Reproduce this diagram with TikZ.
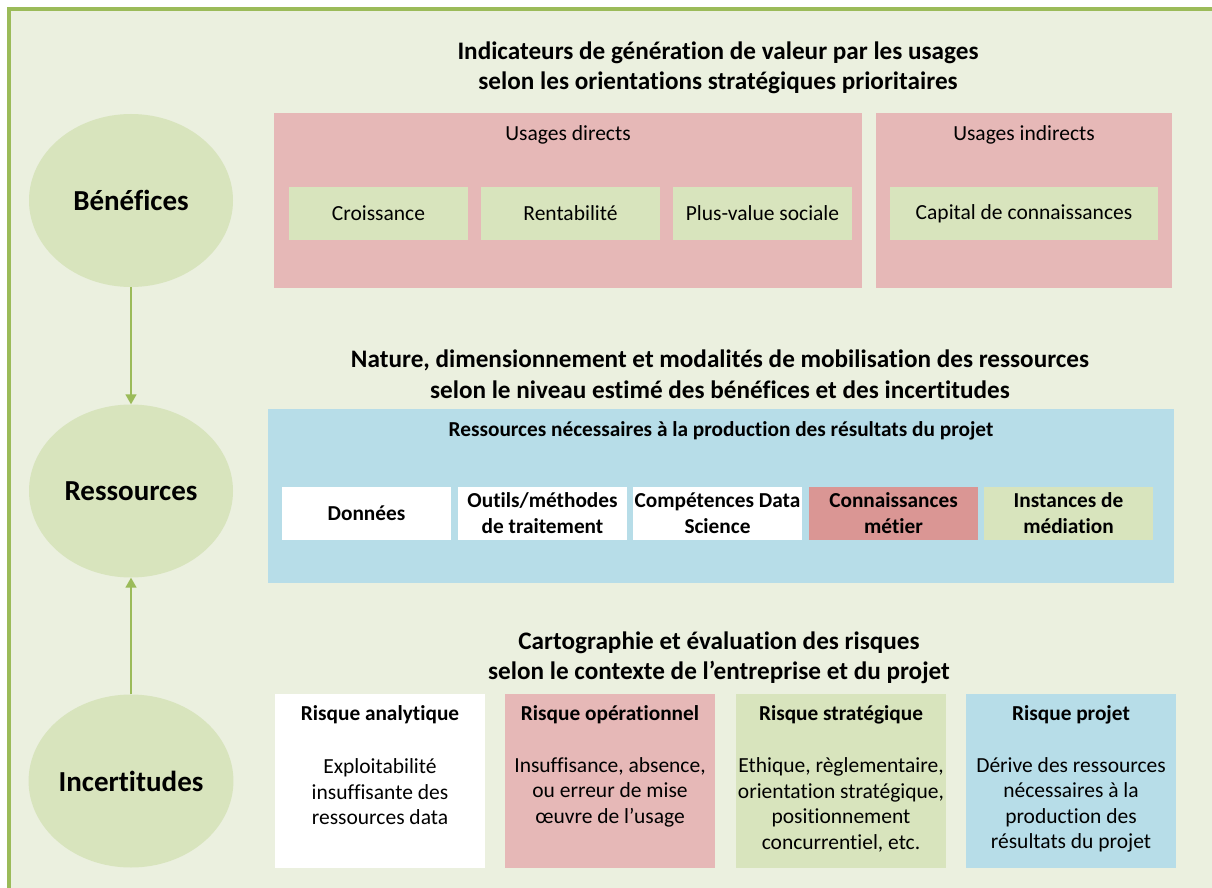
\documentclass[tikz,border=0pt]{standalone}
\usepackage{fontspec}
\setmainfont{Carlito}[Ligatures=CommonOff]
\usetikzlibrary{arrows.meta, shapes.geometric}
\definecolor{bgGreen}{HTML}{EBF0DF}
\definecolor{frameGreen}{HTML}{9BBB59}
\definecolor{softGreen}{HTML}{D8E4BD}
\definecolor{softPink}{HTML}{E6B8B7}
\definecolor{deepPink}{HTML}{DA9694}
\definecolor{softBlue}{HTML}{B7DDE8}

\begin{document}
\begin{tikzpicture}[x=1pt, y=-1pt, >={Triangle[width=11pt,length=10pt]},
  heading/.style={align=center, font=\fontsize{25.2}{30.5}\selectfont\bfseries},
  plain/.style={align=center, font=\fontsize{21.5}{25.5}\selectfont},
  strong/.style={align=center, font=\fontsize{21.3}{26}\selectfont\bfseries},
  pill/.style={ellipse, fill=softGreen, inner sep=0pt, minimum width=204pt,
    minimum height=173pt, font=\fontsize{29}{34}\selectfont\bfseries},
  cell/.style={inner sep=0pt, minimum width=#1, minimum height=53pt},
  cell/.default=179pt,
  risk/.style={fill=#1, inner sep=0pt, minimum width=210pt, minimum height=174pt},
  flow/.style={->, frameGreen, line width=1.5pt}]
  % frame
  \useasboundingbox (0,0) rectangle (1212,888);
  \fill[bgGreen] (9,9) rectangle (1212,888);
  \draw[frameGreen, line width=3.5pt] (9,888) -- (9,9) -- (1212,9);
  % left column
  \node[pill] (bene) at (131,200.5) {Bénéfices};
  \node[pill] (ress) at (131,491) {Ressources};
  \node[pill] (incert) at (131,781) {Incertitudes};
  \draw[flow] (bene) -- (ress);
  \draw[flow] (incert) -- (ress);
  % benefits
  \node[heading] (headBene) at (718,68) {Indicateurs de génération de valeur par les usages\\
    selon les orientations stratégiques prioritaires};
  \node[fill=softPink, inner sep=0pt, minimum width=588pt, minimum height=175pt] (direct) at (568,200.5) {};
  \node[fill=softPink, inner sep=0pt, minimum width=296pt, minimum height=175pt] (indirect) at (1024,200.5) {};
  \node[plain] (directLbl) at (568,135) {Usages directs};
  \node[plain] (indirectLbl) at (1024,135) {Usages indirects};
  \node[cell, fill=softGreen, plain] (croiss) at (378.5,213.5) {Croissance};
  \node[cell, fill=softGreen, plain] (rentab) at (570.5,213.5) {Rentabilité};
  \node[cell, fill=softGreen, plain] (plusval) at (762.5,213.5) {Plus-value sociale};
  \node[cell=268pt, fill=softGreen, plain] (capital) at (1024,213.5) {Capital de connaissances};
  % resources
  \node[heading] (headRess) at (720,374) {Nature, dimensionnement et modalités de mobilisation des ressources\\
    selon le niveau estimé des bénéfices et des incertitudes};
  \node[fill=softBlue, inner sep=0pt, minimum width=906pt, minimum height=174pt] (resBox) at (721,496) {};
  \node[strong] (resLbl) at (721,431)
    {Ressources nécessaires à la production des résultats du projet};
  \node[cell=169pt, fill=white, strong] (donnees) at (366.5,513) {Données};
  \node[cell=169pt, fill=white, strong] (outils) at (542.5,513) {Outils/méthodes\\de traitement};
  \node[cell=169pt, fill=white, strong] (compet) at (717.5,513) {Compétences Data\\Science};
  \node[cell=169pt, fill=deepPink, strong] (connais) at (893.5,513) {Connaissances\\métier};
  \node[cell=169pt, fill=softGreen, strong] (instances) at (1068.5,513) {Instances de\\médiation};
  % risks
  \node[heading] (headRisk) at (719,658) {Cartographie et évaluation des risques\\
    selon le contexte de l’entreprise et du projet};
  \node[risk=white] (analyt) at (380,781) {};
  \node[risk=softPink] (operat) at (610,781) {};
  \node[risk=softGreen] (strat) at (841,781) {};
  \node[risk=softBlue] (projet) at (1071,781) {};
  \node[strong] (analytLbl) at (380,715) {Risque analytique};
  \node[strong] (operatLbl) at (610,715) {Risque opérationnel};
  \node[strong] (stratLbl) at (841,715) {Risque stratégique};
  \node[strong] (projetLbl) at (1071,715) {Risque projet};
  \node[plain] (analytTxt) at (380,792) {Exploitabilité\\insuffisante des\\ressources data};
  \node[plain] (operatTxt) at (610,792) {Insuffisance, absence,\\ou erreur de mise\\œuvre de l’usage};
  \node[plain] (stratTxt) at (841,805) {Ethique, règlementaire,\\orientation stratégique,\\positionnement\\concurrentiel, etc.};
  \node[plain] (projetTxt) at (1071,805) {Dérive des ressources\\nécessaires à la\\production des\\résultats du projet};
\end{tikzpicture}
\end{document}
